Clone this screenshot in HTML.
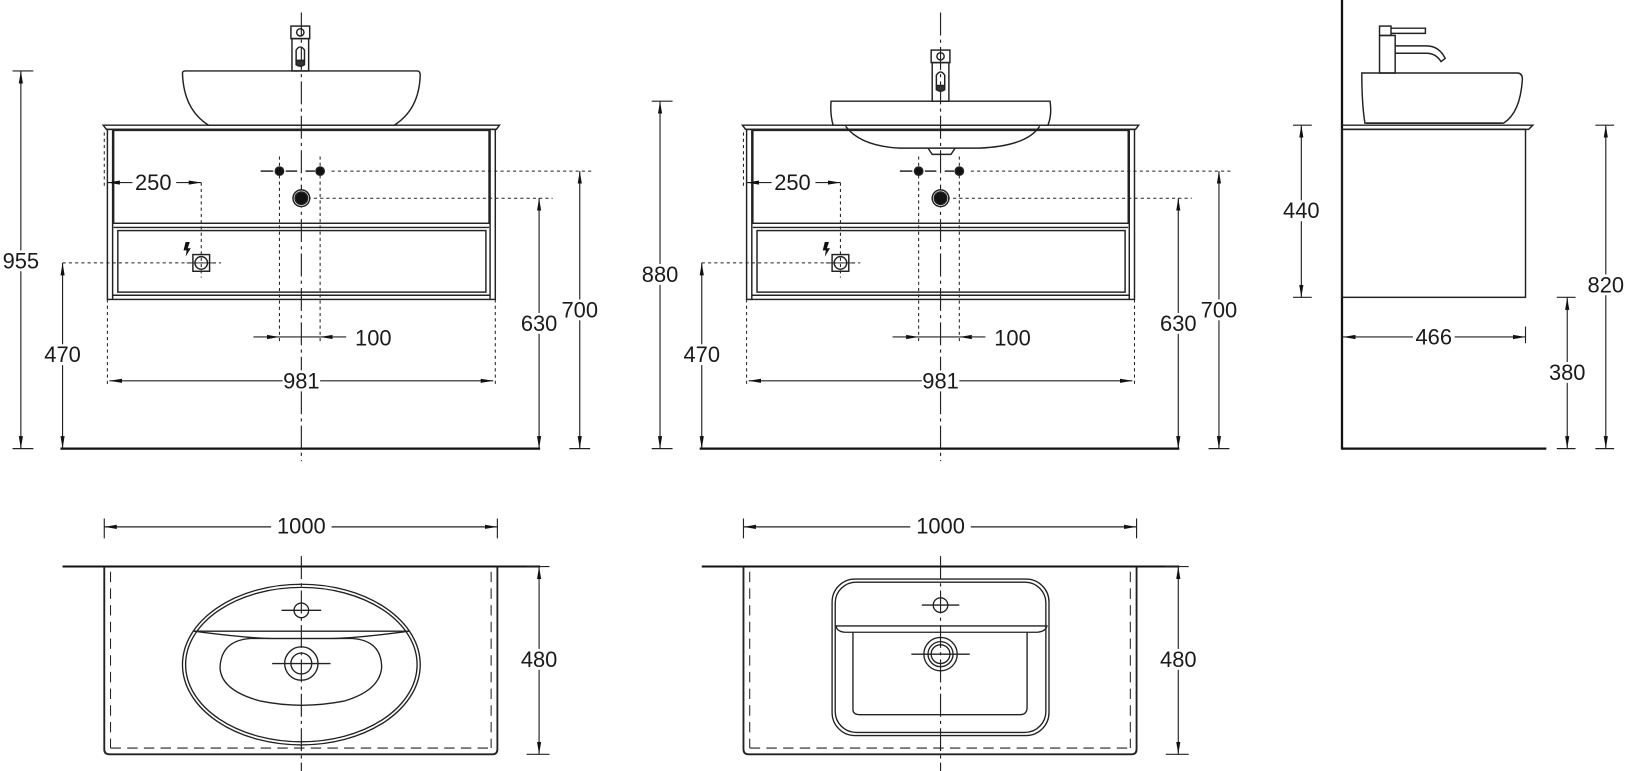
<!DOCTYPE html>
<html><head><meta charset="utf-8"><style>
html,body{margin:0;padding:0;background:#fff;}
svg{display:block;}
text{font-family:"Liberation Sans",sans-serif;font-size:21px;fill:#1a1a1a;text-anchor:middle;dominant-baseline:central;}
</style></head><body>
<svg width="1635" height="771" viewBox="0 0 1568 739" preserveAspectRatio="none" xmlns="http://www.w3.org/2000/svg">
<defs>
<marker id="a" viewBox="0 0 12 6" refX="12" refY="3" markerWidth="12" markerHeight="6" markerUnits="userSpaceOnUse" orient="auto-start-reverse"><path d="M0,1 L12,3 L0,5 Z" fill="#111"/></marker>
<g id="cab" fill="none" stroke="#222" stroke-width="1.4">
  <path d="M99,120 H479 L476,124 H102 Z"/>
  <rect x="103" y="124" width="372" height="163"/>
  <line x1="108" y1="124" x2="108" y2="287"/>
  <line x1="470" y1="124" x2="470" y2="287"/>
  <rect x="109" y="125" width="360" height="89"/>
  <line x1="109" y1="218" x2="469" y2="218"/>
  <rect x="113" y="221" width="353" height="59"/>
  <line x1="108" y1="283" x2="470" y2="283"/>
  <g stroke-dasharray="3,3" stroke-width="1">
    <line x1="100" y1="127" x2="100" y2="180"/>
    <line x1="103" y1="287" x2="103" y2="370"/>
    <line x1="475" y1="287" x2="475" y2="370"/>
    <line x1="268" y1="150" x2="268" y2="330"/>
    <line x1="307" y1="150" x2="307" y2="330"/>
    <line x1="193" y1="175" x2="193" y2="266"/>
    <line x1="60" y1="252" x2="212" y2="252"/>
    <line x1="289" y1="190" x2="530" y2="190"/>
    <line x1="318" y1="164" x2="568" y2="164"/>
  </g>
  <line x1="250" y1="164" x2="262" y2="164"/>
  <line x1="274" y1="164" x2="285" y2="164"/>
  <line x1="293" y1="164" x2="302" y2="164"/>
  <line x1="289" y1="12" x2="289" y2="442" stroke-dasharray="22,4,3,4" stroke-width="1.1"/>
  <line x1="58" y1="430" x2="518" y2="430" stroke-width="2.2" stroke="#111"/>
  <g stroke-width="1.1">
    <line x1="60" y1="252" x2="60" y2="430" marker-start="url(#a)" marker-end="url(#a)"/>
    <line x1="517" y1="190" x2="517" y2="430" marker-start="url(#a)" marker-end="url(#a)"/>
    <line x1="556" y1="164" x2="556" y2="430" marker-start="url(#a)" marker-end="url(#a)"/>
    <line x1="546" y1="430" x2="566" y2="430"/>
    <line x1="105" y1="365" x2="473" y2="365" marker-start="url(#a)" marker-end="url(#a)"/>
    <line x1="243" y1="323" x2="268" y2="323" marker-end="url(#a)"/>
    <line x1="268" y1="323" x2="307" y2="323"/>
    <line x1="332" y1="323" x2="307" y2="323" marker-end="url(#a)"/>
    <line x1="103" y1="175" x2="193" y2="175" marker-start="url(#a)" marker-end="url(#a)"/>
  </g>
  <circle cx="268" cy="164" r="4" fill="#111"/>
  <circle cx="307" cy="164" r="4" fill="#111"/>
  <circle cx="289" cy="190" r="8" fill="#fff"/>
  <circle cx="289" cy="190" r="6" fill="#111"/>
  <rect x="185" y="244" width="16" height="16"/>
  <circle cx="193" cy="252" r="6"/>
  <line x1="179" y1="252" x2="207" y2="252" stroke-width="0.9"/>
  <path d="M178,232 L182,232 L180,238 L183,238 L178,246 L179,240 L176,240 Z" fill="#111" stroke="none"/>
</g>
<g id="cabt">
  <rect x="43" y="330" width="34" height="20" fill="#fff"/><text x="60" y="340">470</text>
  <rect x="499" y="300" width="36" height="20" fill="#fff"/><text x="517" y="310">630</text>
  <rect x="537" y="287" width="38" height="20" fill="#fff"/><text x="556" y="297">700</text>
  <rect x="271" y="355" width="36" height="20" fill="#fff"/><text x="289" y="365">981</text>
  <text x="358" y="324">100</text>
  <rect x="127" y="165" width="42" height="20" fill="#fff"/><text x="147" y="175">250</text>
</g>
<g id="plan" fill="none" stroke="#222" stroke-width="1.4">
  <line x1="60" y1="543" x2="518" y2="543" stroke-width="2" stroke="#111"/>
  <path d="M100,543 V718 Q100,723 105,723 H472 Q477,723 477,718 V543" stroke-width="1.8"/>
  <g stroke-dasharray="10,6" stroke-width="1">
    <line x1="106" y1="548" x2="106" y2="717"/>
    <line x1="471" y1="548" x2="471" y2="717"/>
    <line x1="106" y1="717" x2="471" y2="717"/>
  </g>
  <g stroke-width="1.1">
    <line x1="100" y1="497" x2="100" y2="516"/>
    <line x1="477" y1="497" x2="477" y2="516"/>
    <line x1="100" y1="505" x2="477" y2="505" marker-start="url(#a)" marker-end="url(#a)"/>
    <line x1="517" y1="543" x2="517" y2="723" marker-start="url(#a)" marker-end="url(#a)"/>
    <line x1="505" y1="723" x2="527" y2="723"/>
    <line x1="505" y1="543" x2="527" y2="543"/>
  </g>
  <line x1="289" y1="533" x2="289" y2="768" stroke-dasharray="22,4,3,4" stroke-width="1.1"/>
</g>
<g id="plant">
  <rect x="260" y="494" width="58" height="22" fill="#fff"/><text x="289" y="504">1000</text>
  <rect x="499" y="622" width="36" height="20" fill="#fff"/><text x="517" y="632">480</text>
</g>
</defs>

<use href="#cab"/>
<use href="#cabt"/>
<g fill="none" stroke="#222" stroke-width="1.4">
  <path d="M175,70 Q175,68 178,68 H400 Q403,68 403,72 Q402,105 378,120 H200 Q176,105 175,70 Z"/>
  <rect x="279" y="25" width="18" height="12"/>
  <circle cx="288" cy="31" r="3.5"/>
  <rect x="280" y="37" width="16" height="31"/>
  <path d="M284,58 V48 Q288,42 292,48 V58 Z"/>
  <path d="M284,58 H292 V62 Q288,65 284,62 Z" fill="#333"/>
  <g stroke-width="1.1">
    <line x1="12" y1="68" x2="32" y2="68"/>
    <line x1="12" y1="430" x2="32" y2="430"/>
    <line x1="20" y1="68" x2="20" y2="430" marker-start="url(#a)" marker-end="url(#a)"/>
  </g>
</g>
<rect x="1" y="240" width="38" height="20" fill="#fff"/><text x="20" y="250">955</text>

<g transform="translate(613,0)">
  <use href="#cab"/>
  <use href="#cabt"/>
  <g fill="none" stroke="#222" stroke-width="1.4">
    <path d="M184,97 H394 Q396,110 392,120 H186 Q183,110 184,97 Z"/>
    <path d="M198,121 Q212,140 250,142 H326 Q372,140 384,121"/>
    <path d="M277,142 L281,148 H299 L303,142"/>
    <rect x="280" y="48" width="18" height="12"/>
    <circle cx="289" cy="54" r="3.5"/>
    <rect x="281" y="60" width="16" height="37"/>
    <path d="M285,82 V72 Q289,66 293,72 V82 Z"/>
    <path d="M285,82 H293 V86 Q289,89 285,86 Z" fill="#333"/>
    <g stroke-width="1.1">
      <line x1="12" y1="97" x2="32" y2="97"/>
      <line x1="12" y1="430" x2="32" y2="430"/>
      <line x1="20" y1="97" x2="20" y2="430" marker-start="url(#a)" marker-end="url(#a)"/>
    </g>
  </g>
  <rect x="1" y="253" width="38" height="20" fill="#fff"/><text x="20" y="263">880</text>
</g>

<g fill="none" stroke="#222" stroke-width="1.4">
  <line x1="1287" y1="0" x2="1287" y2="431" stroke-width="2.2" stroke="#111"/>
  <line x1="1287" y1="430" x2="1483" y2="430" stroke-width="2.2" stroke="#111"/>
  <path d="M1287,120 H1470 L1466,124 H1287"/>
  <rect x="1287" y="124" width="176" height="161"/>
  <path d="M1306,70 H1455 Q1460,70 1460,76 Q1458,108 1442,118 H1309 Q1306,100 1306,70 Z"/>
  <line x1="1310" y1="118" x2="1440" y2="118"/>
  <rect x="1323" y="34" width="15" height="36"/>
  <rect x="1323" y="25" width="11" height="9"/>
  <path d="M1334,27 H1367 V32 H1334"/>
  <path d="M1338,44 H1368 Q1380,44 1386,56 L1382,59 Q1377,51 1368,51 H1338"/>
  <g stroke-width="1.1">
    <line x1="1240" y1="120" x2="1258" y2="120"/>
    <line x1="1240" y1="285" x2="1258" y2="285"/>
    <line x1="1248" y1="120" x2="1248" y2="285" marker-start="url(#a)" marker-end="url(#a)"/>
    <line x1="1530" y1="120" x2="1548" y2="120"/>
    <line x1="1530" y1="430" x2="1548" y2="430"/>
    <line x1="1540" y1="120" x2="1540" y2="430" marker-start="url(#a)" marker-end="url(#a)"/>
    <line x1="1493" y1="285" x2="1511" y2="285"/>
    <line x1="1493" y1="430" x2="1511" y2="430"/>
    <line x1="1503" y1="285" x2="1503" y2="430" marker-start="url(#a)" marker-end="url(#a)"/>
    <line x1="1463" y1="313" x2="1463" y2="329"/>
    <line x1="1288" y1="323" x2="1463" y2="323" marker-start="url(#a)" marker-end="url(#a)"/>
  </g>
</g>
<rect x="1227" y="192" width="42" height="20" fill="#fff"/><text x="1248" y="202">440</text>
<rect x="1519" y="263" width="42" height="20" fill="#fff"/><text x="1540" y="273">820</text>
<rect x="1483" y="347" width="40" height="20" fill="#fff"/><text x="1503" y="357">380</text>
<rect x="1355" y="313" width="40" height="20" fill="#fff"/><text x="1375" y="323">466</text>

<use href="#plan"/>
<g fill="none" stroke="#222" stroke-width="1.3">
  <ellipse cx="289" cy="637" rx="114" ry="77"/>
  <ellipse cx="289" cy="637" rx="111" ry="74"/>
  <line x1="186" y1="605" x2="392" y2="605"/>
  <path d="M186,605 Q240,612 262,612 H316 Q340,612 392,605"/>
  <path d="M240,612 H338 Q366,614 366,640 Q364,662 330,672 Q289,680 250,672 Q212,662 211,640 Q212,614 240,612 Z"/>
  <circle cx="289" cy="636" r="16"/>
  <circle cx="289" cy="636" r="10"/>
  <line x1="261" y1="636" x2="317" y2="636"/>
  <circle cx="289" cy="585" r="7"/>
  <line x1="270" y1="585" x2="308" y2="585"/>
</g>
<use href="#plant"/>

<g transform="translate(613,0)">
  <use href="#plan"/>
  <g fill="none" stroke="#222" stroke-width="1.3" transform="translate(-613,0)">
    <rect x="798" y="555" width="208" height="150" rx="22"/>
    <rect x="801" y="558" width="202" height="144" rx="20"/>
    <path d="M802,600 H1004 Q1003,605 995,606 H810 Q802,605 802,600 Z"/>
    <path d="M818,606 V680 Q818,685 825,685 H978 Q985,685 985,678 V606"/>
    <circle cx="902" cy="627" r="16"/>
    <circle cx="902" cy="627" r="12"/>
    <circle cx="902" cy="627" r="9"/>
    <line x1="874" y1="627" x2="930" y2="627"/>
    <circle cx="902" cy="580" r="7"/>
    <line x1="884" y1="580" x2="920" y2="580"/>
  </g>
  <use href="#plant"/>
</g>
</svg>
</body></html>
